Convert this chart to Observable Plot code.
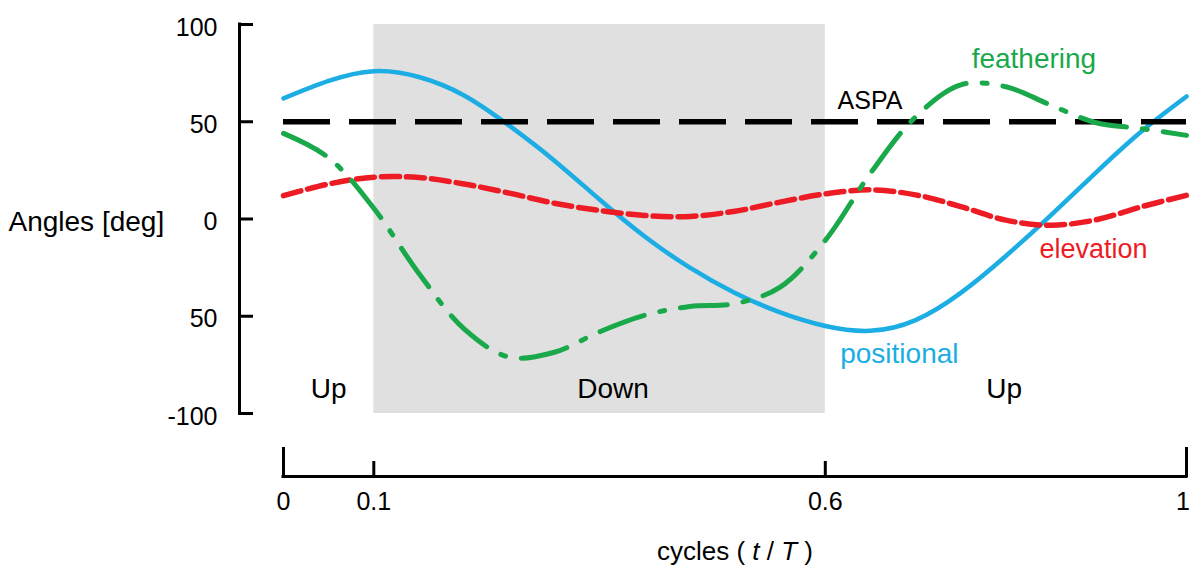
<!DOCTYPE html>
<html>
<head>
<meta charset="utf-8">
<script src="https://cdn.jsdelivr.net/npm/d3@7"></script>
<script src="https://cdn.jsdelivr.net/npm/@observablehq/plot@0.6"></script>
<style>
  html, body { margin: 0; padding: 0; background: #fff; }
  svg text { white-space: pre; }
</style>
</head>
<body>
<div id="chart"></div>
<script>
// ---- data ----
const t = [0, 0.05, 0.1, 0.15, 0.2, 0.25, 0.3, 0.35, 0.4, 0.45, 0.5,
           0.55, 0.6, 0.65, 0.7, 0.75, 0.8, 0.85, 0.9, 0.95, 1];
const positional = [62, 71, 76, 73, 63.5, 48, 30, 10, -9, -25, -38,
                    -48, -55, -57.5, -52, -38, -19, 2, 24, 45, 63];
const elevation = [12, 18, 21.5, 21.3, 18, 13.3, 8.1, 4.4, 1.8, 1.3, 4,
                   8.7, 12.9, 15, 12.4, 6.4, -0.6, -3.2, -0.4, 6.3, 12.2];
const feathering = [44, 31.5, 5.5, -28, -56.5, -71, -68.5, -58, -49.5, -45, -43.5,
                    -35, -11, 23.5, 52.5, 69, 68, 58.5, 49.5, 46.5, 43];
const aspa = 50;

const phaseBounds = [0, 0.1, 0.6, 1];
const phaseLabels = ["Up", "Down", "Up"];
const phaseLabelT = [0.05, 0.365, 0.798];

const xTicks = [0, 0.1, 0.6, 1];
const xTickLabels = ["0", "0.1", "0.6", "1"];
const yTicks = [100, 50, 0, -50, -100];
const yTickLabels = ["100", "50", "0", "50", "-100"];
const xDomain = [0, 1];
const yDomain = [-100, 100];

const yLabel = "Angles [deg]";
const xLabel = "cycles ( t / T )";

const seriesLabels = [
  {name: "feathering", t: 0.831, v: 82.3},
  {name: "ASPA", t: 0.6495, v: 60.9},
  {name: "positional", t: 0.682, v: -69.4},
  {name: "elevation", t: 0.897, v: -15.4}
];

// ---- tables built from the arrays ----
const rows = t.map((ti, i) => ({t: ti, positional: positional[i], elevation: elevation[i], feathering: feathering[i]}));
const phases = phaseLabels.map((p, i) => ({label: p, x1: phaseBounds[i], x2: phaseBounds[i + 1], tc: phaseLabelT[i]}));
const xTickRows = xTicks.map((v, i) => ({v, label: xTickLabels[i]}));
const yTickRows = yTicks.map((v, i) => ({v, label: yTickLabels[i]}));
const endTicks = [xTicks[0], xTicks[xTicks.length - 1]];
const midTicks = xTicks.slice(1, -1);

const BLUE = "#1badE3", RED = "#ed1c24", GREEN = "#19a94b", GRAY = "#e0e0e0";
const font = "'Liberation Sans', Arial, Helvetica, sans-serif";
const lab = name => seriesLabels.filter(d => d.name === name);

const chart = Plot.plot({
  width: 1190,
  height: 568,
  marginLeft: 283,
  marginRight: 4,
  marginTop: 24,
  marginBottom: 155,
  x: {domain: xDomain, axis: null},
  y: {domain: yDomain, axis: null},
  style: {fontFamily: font, background: "white", overflow: "visible", color: "black"},
  marks: [
    // downstroke shading
    Plot.rect(phases.filter(d => d.label === "Down"), {x1: "x1", x2: "x2", fill: GRAY}),
    // y axis
    Plot.ruleX([xDomain[0]], {dx: -44, stroke: "black", strokeWidth: 3, strokeLinecap: "square"}),
    Plot.axisY(yTicks, {anchor: "left", tickSize: 15, dx: -30, strokeWidth: 3, tickFormat: () => "", label: null}),
    Plot.text(yTickRows, {y: "v", text: "label", frameAnchor: "left", lineAnchor: "middle", dx: -66, dy: 3, textAnchor: "end", fontSize: 25, fill: "black"}),
    Plot.text([yLabel], {text: d => d, frameAnchor: "left", lineAnchor: "middle", dx: -275, dy: 3, textAnchor: "start", fontSize: 28, fill: "black"}),
    // x axis bracket
    Plot.ruleY([yDomain[0]], {dy: 63, stroke: "black", strokeWidth: 3, strokeLinecap: "square"}),
    Plot.axisX(endTicks, {anchor: "top", tickSize: 30, dy: 452, strokeWidth: 3, tickFormat: () => "", label: null}),
    Plot.axisX(midTicks, {anchor: "top", tickSize: 16, dy: 452, strokeWidth: 3, tickFormat: () => "", label: null}),
    Plot.text(xTickRows.slice(0, -1), {x: "v", text: "label", frameAnchor: "bottom", lineAnchor: "middle", dy: 88, fontSize: 25, fill: "black"}),
    Plot.text(xTickRows.slice(-1), {x: "v", text: "label", frameAnchor: "bottom", lineAnchor: "middle", textAnchor: "end", dx: 3.5, dy: 88, fontSize: 25, fill: "black"}),
    Plot.text([xLabel], {text: d => d, frameAnchor: "bottom", lineAnchor: "middle", dy: 138, fontSize: 26, fill: "black"}),
    // curves
    Plot.line(rows, {x: "t", y: "positional", stroke: BLUE, strokeWidth: 4.5, curve: "natural"}),
    Plot.line(rows, {x: "t", y: "elevation", stroke: RED, strokeWidth: 5.5, strokeDasharray: "18,7", curve: "catmull-rom"}),
    Plot.ruleY([aspa], {stroke: "black", strokeWidth: 5.5, strokeDasharray: "47,19"}),
    Plot.line(rows, {x: "t", y: "feathering", stroke: GREEN, strokeWidth: 5, strokeDasharray: "47,16,5,16", curve: "catmull-rom"}),
    // phase labels
    Plot.text(phases, {x: "tc", text: "label", frameAnchor: "bottom", lineAnchor: "middle", dy: -24, fontSize: 28, fill: "black"}),
    // series labels
    Plot.text(lab("feathering"), {x: "t", y: "v", text: "name", fontSize: 28, fill: GREEN}),
    Plot.text(lab("ASPA"), {x: "t", y: "v", text: "name", fontSize: 25, fill: "black"}),
    Plot.text(lab("positional"), {x: "t", y: "v", text: "name", fontSize: 28, fill: BLUE}),
    Plot.text(lab("elevation"), {x: "t", y: "v", text: "name", fontSize: 27, fill: RED})
  ]
});

// italic t and T in the x-axis title
d3.select(chart).selectAll("text").each(function () {
  if (this.textContent === xLabel) {
    const el = d3.select(this);
    const tokens = xLabel.split(" ");
    el.text(null);
    tokens.forEach((tok, i) => {
      const ts = el.append("tspan").text(tok + (i < tokens.length - 1 ? " " : ""));
      if (tok === "t" || tok === "T") ts.attr("font-style", "italic");
    });
  }
});

document.getElementById("chart").appendChild(chart);
</script>
</body>
</html>
